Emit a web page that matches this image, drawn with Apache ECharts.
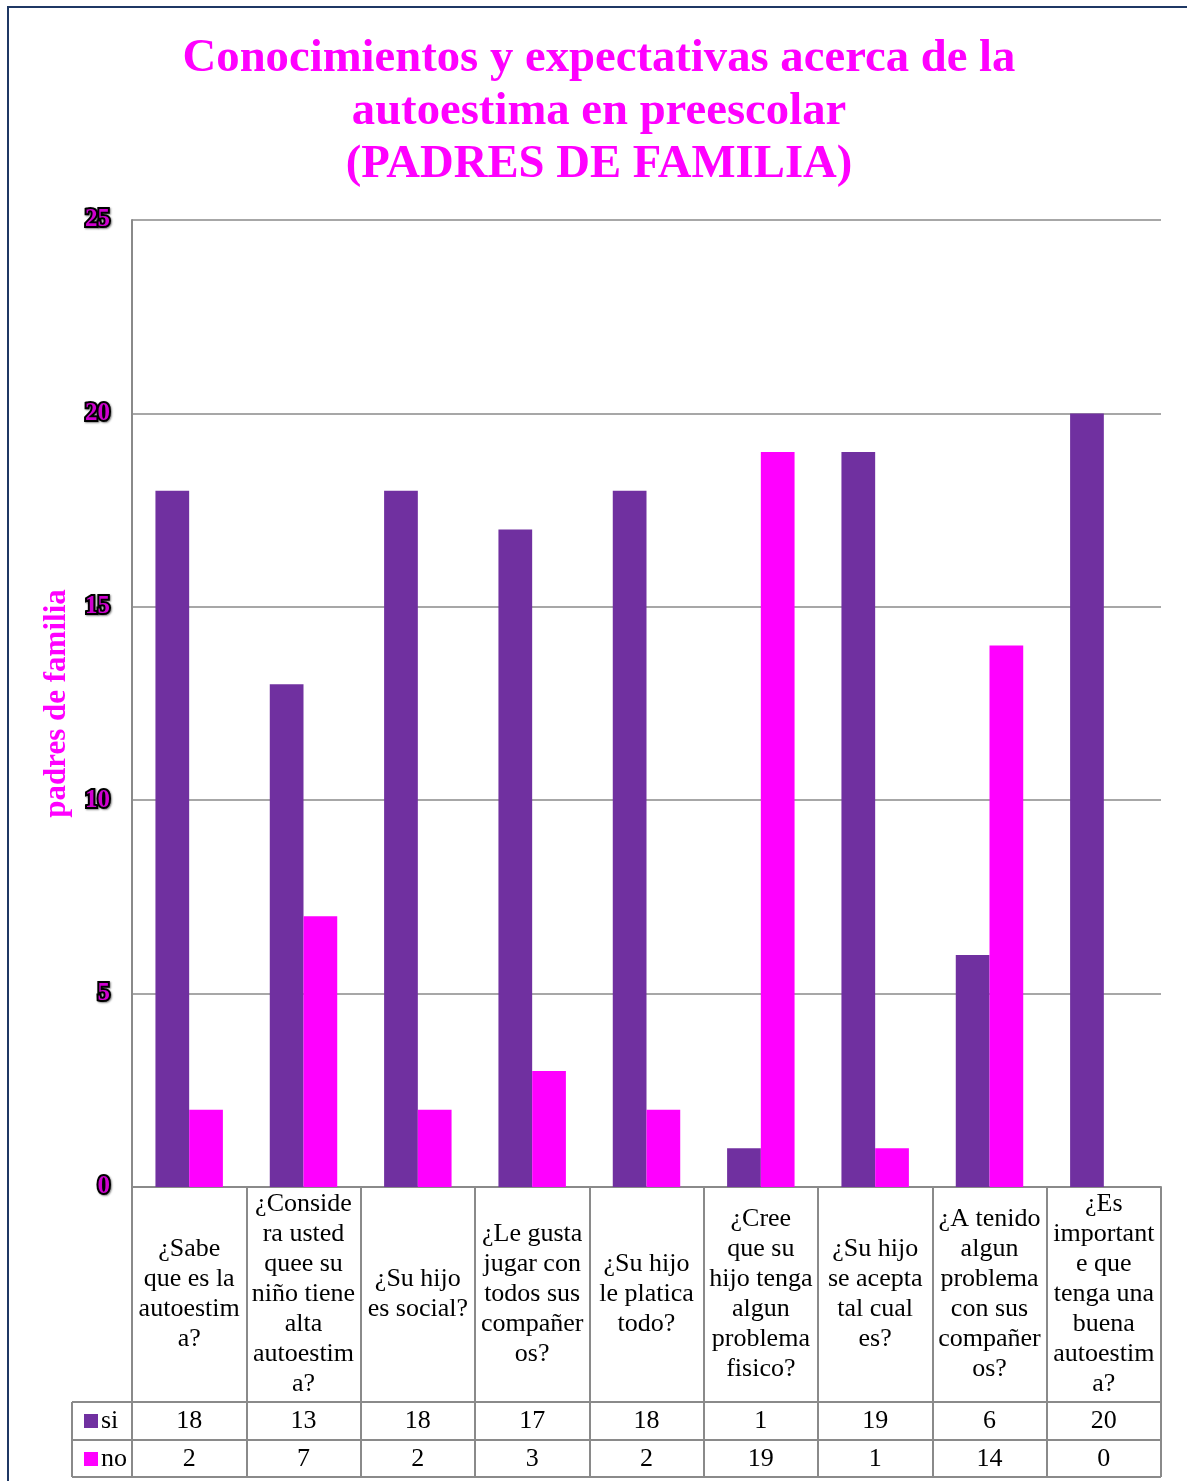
<!DOCTYPE html>
<html>
<head>
<meta charset="utf-8">
<style>html,body{margin:0;padding:0;background:#fff;}#chart{width:1187px;height:1481px;}</style>
<script src="https://cdn.jsdelivr.net/npm/echarts@6/dist/echarts.min.js"></script>
</head>
<body>
<div id="chart"></div>
<script>
const categories = [
  '¿Sabe\nque es la\nautoestim\na?',
  '¿Conside\nra usted\nquee su\nniño tiene\nalta\nautoestim\na?',
  '¿Su hijo\nes social?',
  '¿Le gusta\njugar con\ntodos sus\ncompañer\nos?',
  '¿Su hijo\nle platica\ntodo?',
  '¿Cree\nque su\nhijo tenga\nalgun\nproblema\nfisico?',
  '¿Su hijo\nse acepta\ntal cual\nes?',
  '¿A tenido\nalgun\nproblema\ncon sus\ncompañer\nos?',
  '¿Es\nimportant\ne que\ntenga una\nbuena\nautoestim\na?'
];
const siValues = [18, 13, 18, 17, 18, 1, 19, 6, 20];
const noValues = [2, 7, 2, 3, 2, 19, 1, 14, 0];
const seriesNames = ['si', 'no'];
const titleText = 'Conocimientos y expectativas acerca de la\nautoestima en preescolar\n(PADRES DE FAMILIA)';
const yAxisName = 'padres de familia';

const SERIF = '"Liberation Serif","Times New Roman",serif';
const GRID = {left: 132, right: 26, top: 220, bottom: 294};
const HEADER_H = 215, ROW_H = 38, LEFT_COL = 60;
const GRAY = '#8a8a8a';

const chart = echarts.init(document.getElementById('chart'));
const plotBottom = 1481 - GRID.bottom;

const option = {
  animation: false,
  backgroundColor: '#fff',
  title: {
    text: titleText,
    left: 594, textAlign: 'center', top: 27,
    textStyle: {fontFamily: SERIF, fontWeight: 'bold', fontSize: 46.7, lineHeight: 53, color: '#ff00ff'}
  },
  legend: {
    orient: 'vertical', left: 79, top: plotBottom + HEADER_H + 1,
    icon: 'rect', itemWidth: 14, itemHeight: 14, itemGap: 12,
    textStyle: {fontFamily: SERIF, fontSize: 26, lineHeight: 26, color: '#000', padding: [0,0,0,-2]},
    data: seriesNames
  },
  grid: GRID,
  xAxis: [
    {
      type: 'category', data: categories, position: 'bottom',
      axisLine: {lineStyle: {color: GRAY, width: 2}},
      axisTick: {show: true, length: HEADER_H, lineStyle: {color: GRAY, width: 2}},
      axisLabel: {interval: 0, margin: HEADER_H / 2, verticalAlign: 'middle', fontFamily: SERIF, fontSize: 26, lineHeight: 30, color: '#000', align: 'center'},
      splitLine: {show: false}
    },
    {
      type: 'category', data: siValues.map(String), position: 'bottom', offset: HEADER_H, gridIndex: 0,
      axisLine: {lineStyle: {color: GRAY, width: 2}},
      axisTick: {show: true, length: ROW_H, lineStyle: {color: GRAY, width: 2}},
      axisLabel: {interval: 0, margin: ROW_H / 2, verticalAlign: 'middle', fontFamily: SERIF, fontSize: 26, color: '#000'},
      splitLine: {show: false}
    },
    {
      type: 'category', data: noValues.map(String), position: 'bottom', offset: HEADER_H + ROW_H, gridIndex: 0,
      axisLine: {lineStyle: {color: GRAY, width: 2}},
      axisTick: {show: true, length: ROW_H - 1, lineStyle: {color: GRAY, width: 2}},
      axisLabel: {interval: 0, margin: ROW_H / 2, verticalAlign: 'middle', fontFamily: SERIF, fontSize: 26, color: '#000'},
      splitLine: {show: false}
    }
  ],
  yAxis: {
    type: 'value', min: 0, max: 25, interval: 5,
    name: yAxisName, nameLocation: 'middle', nameGap: 51, nameRotate: 90,
    nameTextStyle: {fontFamily: SERIF, fontWeight: 'bold', fontSize: 31, color: '#ff00ff'},
    axisLine: {show: true, lineStyle: {color: GRAY, width: 2}},
    axisTick: {show: false},
    axisLabel: {margin: 22, fontFamily: SERIF, fontWeight: 'bold', fontSize: 25, color: '#d000d0', textBorderColor: '#000', textBorderWidth: 4, textShadowColor: 'rgba(0,0,0,0.45)', textShadowBlur: 2, textShadowOffsetX: 1, textShadowOffsetY: 1},
    splitLine: {lineStyle: {color: GRAY, width: 1.5}}
  },
  series: [
    {name: seriesNames[0], type: 'bar', data: siValues, itemStyle: {color: '#7030a0'}, barGap: '0%', barCategoryGap: '41%'},
    {name: seriesNames[1], type: 'bar', data: noValues, itemStyle: {color: '#ff00ff'}}
  ],
  graphic: []
};
chart.setOption(option);

const x0 = GRID.left - LEFT_COL, x1 = GRID.left, xR = 1187 - GRID.right;
const yA = plotBottom + HEADER_H, yB = yA + ROW_H, yC = yB + ROW_H - 1;
const ls = {stroke: GRAY, lineWidth: 2};
chart.setOption({
  graphic: [
    {type: 'rect', shape: {x: 8, y: 7, width: 1200, height: 1500}, style: {fill: 'none', stroke: '#1f3864', lineWidth: 2}, z: 100},
    {type: 'line', shape: {x1: x0, y1: yA, x2: x1, y2: yA}, style: ls},
    {type: 'line', shape: {x1: x0, y1: yB, x2: x1, y2: yB}, style: ls},
    {type: 'line', shape: {x1: x0, y1: yC, x2: xR, y2: yC}, style: ls},
    {type: 'line', shape: {x1: x0, y1: yA, x2: x0, y2: yC}, style: ls}
  ]
});
</script>
</body>
</html>
